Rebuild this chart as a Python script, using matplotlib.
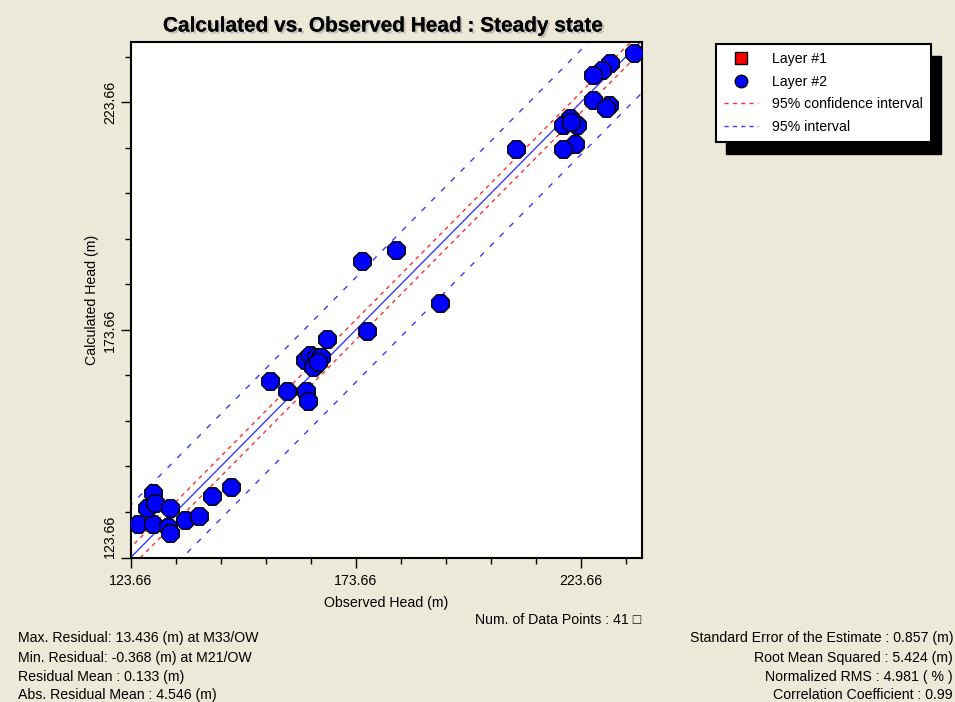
import matplotlib
matplotlib.use("Agg")
import matplotlib.pyplot as plt
import numpy as np
from matplotlib.lines import Line2D
from matplotlib.patches import Rectangle
import matplotlib.patheffects as pe

# ---------------- data ----------------
obs_head = [125.35, 128.68, 127.22, 128.68, 129.06, 132.39, 132.02, 132.39, 135.73, 138.84,
            141.79, 145.95,
            154.62, 158.39, 162.62, 162.99, 162.39, 163.50, 164.84, 165.95, 164.17, 165.28,
            167.28, 176.17,
            175.06, 182.62, 192.40,
            235.35, 230.02, 228.33, 226.33, 226.46, 229.80, 229.28, 221.28, 219.79, 222.77,
            221.50, 222.39, 219.66, 209.28]
calc_head = [131.02, 131.02, 134.47, 137.77, 135.57, 134.47, 130.43, 129.11, 131.90, 132.78,
             137.18, 139.22,
             162.45, 160.25, 160.25, 158.05, 167.07, 168.17, 167.73, 167.73, 165.54, 166.64,
             171.59, 173.42,
             188.80, 191.22, 179.57,
             234.47, 232.27, 230.80, 229.55, 224.21, 223.11, 222.38, 220.19, 218.71, 218.71,
             219.40, 214.53, 213.37, 213.44]
layer1_obs = []
layer1_calc = []
ci_offset = 2.2      # 95% confidence interval half-width
pi_offset = 11.5     # 95% interval half-width
axis_min = 123.66
x_max = 237.3
y_max = 236.9
major_ticks = [123.66, 173.66, 223.66]
minor_ticks = [133.66, 143.66, 153.66, 163.66, 183.66, 193.66, 203.66, 213.66, 233.66]

stats_left = ["Max. Residual: 13.436 (m) at M33/OW",
              "Min. Residual: -0.368 (m) at M21/OW",
              "Residual Mean : 0.133 (m)",
              "Abs. Residual Mean : 4.546 (m)"]
stats_right = ["Standard Error of the Estimate : 0.857 (m)",
               "Root Mean Squared : 5.424 (m)",
               "Normalized RMS : 4.981 ( % )",
               "Correlation Coefficient : 0.99"]

# ---------------- figure ----------------
W, H = 955, 702
bg = "#ECE9D8"
fig = plt.figure(figsize=(W / 100, H / 100), dpi=100, facecolor=bg)
font = ["Liberation Sans", "DejaVu Sans"]
plt.rcParams["font.family"] = font
fs = 10.2

L, R, T, B = 130.7, 642.3, 42, 557.5
ax = fig.add_axes([L / W, 1 - B / H, (R - L) / W, (B - T) / H])
ax.set_facecolor("white")
ax.set_xlim(axis_min, x_max)
ax.set_ylim(axis_min, y_max)

xs = np.array([axis_min - 20, x_max + 20])
ax.plot(xs, xs, color="#3a3aff", lw=1.0, zorder=2)
for s in (1, -1):
    ax.plot(xs, xs + s * ci_offset, color="#ff3030", lw=1.0, dashes=(3, 3), zorder=2)
    ax.plot(xs, xs + s * pi_offset, color="#3a3aff", lw=1.0, dashes=(4, 6), zorder=2)

ax.plot(layer1_obs, layer1_calc, "s", color="#ff0000", mec="black", ms=9, mew=1, zorder=3)
ax.scatter(obs_head, calc_head, s=185, c="#0000ff", edgecolors="black", linewidths=1.0,
           marker="8", zorder=4)

for sp in ax.spines.values():
    sp.set_color("black")
    sp.set_linewidth(1.5)

ax.set_xticks(major_ticks)
ax.set_yticks(major_ticks)
ax.set_xticks(minor_ticks, minor=True)
ax.set_yticks(minor_ticks, minor=True)
ax.set_xticklabels(["%.2f" % v for v in major_ticks])
ax.set_yticklabels(["%.2f" % v for v in major_ticks], rotation=90, va="center")
ax.tick_params(which="major", length=7, width=1, direction="out", labelsize=fs, colors="black", pad=5)
ax.tick_params(which="minor", length=4, width=1, direction="out")
ax.tick_params(axis="y", which="major", pad=3)
ax.get_yticklabels()[0].set_va("bottom")

ax.set_xlabel("Observed Head (m)", fontsize=fs, labelpad=6)
ax.set_ylabel("Calculated Head (m)", fontsize=fs, labelpad=3)

# title with shadow
fig.text(384 / W, 1 - 26 / H, "Calculated vs. Observed Head : Steady state",
         ha="center", va="center", fontsize=15, fontweight="bold", color="black",
         path_effects=[pe.withSimplePatchShadow(offset=(1.5, -1.5), shadow_rgbFace="#999999", alpha=0.5),
                       pe.Normal()])

# legend
handles = [Line2D([], [], ls="none", marker="s", color="#ff0000", mec="black", ms=9),
           Line2D([], [], ls="none", marker="o", color="#0000ff", mec="black", ms=9),
           Line2D([], [], color="#ff3030", lw=1, dashes=(3, 3)),
           Line2D([], [], color="#3a3aff", lw=1, dashes=(3, 3))]
labels = ["Layer #1", "Layer #2", "95% confidence interval", "95% interval"]
leg = fig.legend(handles, labels, loc="upper left", bbox_to_anchor=(716 / W, 1 - 44 / H),
                 fontsize=fs, frameon=True, fancybox=False, edgecolor="black",
                 framealpha=1, handlelength=2.4, handletextpad=1.0, labelspacing=0.62,
                 borderpad=0.55, borderaxespad=0)
leg.get_frame().set_linewidth(1.5)
leg.set_zorder(5)
fig.canvas.draw()
bb = leg.get_window_extent()
shadow = Rectangle((bb.x0 + 10, bb.y0 - 12), bb.width, bb.height,
                   transform=None, facecolor="black", edgecolor="black", zorder=4)
fig.add_artist(shadow)

# bottom texts
fig.text(641 / W, 1 - 620 / H, "Num. of Data Points : %d \u25a1" % len(obs_head),
         ha="right", va="center", fontsize=fs)
ys = [638, 658, 677, 695]
for y, t in zip(ys, stats_left):
    fig.text(18 / W, 1 - y / H, t, ha="left", va="center", fontsize=fs)
for y, t in zip(ys, stats_right):
    fig.text(953 / W, 1 - y / H, t, ha="right", va="center", fontsize=fs)

fig.savefig("out.png", dpi=100, facecolor=bg)
